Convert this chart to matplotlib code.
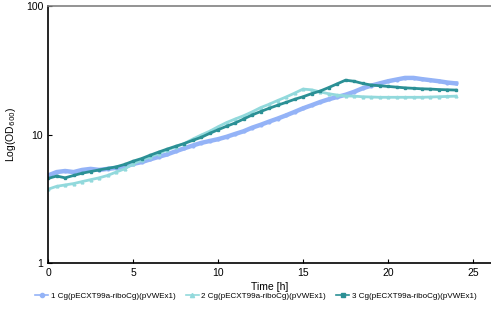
import matplotlib
matplotlib.use("Agg")
import matplotlib.pyplot as plt

plt.rcParams['font.family'] = ['Liberation Sans', 'DejaVu Sans']

time_h = [i * 0.5 for i in range(49)]

od_1 = [4.8, 5.1, 5.2, 5.1, 5.3, 5.4, 5.3, 5.4, 5.5, 5.6,
        5.9, 6.1, 6.4, 6.7, 7.0, 7.4, 7.8, 8.2, 8.6, 8.9,
        9.2, 9.6, 10.1, 10.6, 11.3, 11.9, 12.6, 13.3, 14.1, 15.0,
        16.0, 16.9, 17.9, 18.8, 19.6, 20.4, 21.5, 22.9, 24.0, 25.0,
        26.0, 26.8, 27.6, 27.6, 27.0, 26.5, 26.0, 25.4, 25.0]

od_2 = [3.75, 3.95, 4.05, 4.15, 4.3, 4.45, 4.6, 4.8, 5.1, 5.4,
        5.9, 6.3, 6.7, 7.1, 7.6, 8.0, 8.5, 9.2, 9.9, 10.6,
        11.5, 12.4, 13.2, 14.0, 15.0, 16.2, 17.2, 18.4, 19.6, 21.0,
        22.6, 22.3, 21.5, 20.8, 20.3, 20.0, 19.9, 19.7, 19.6, 19.5,
        19.5, 19.5, 19.5, 19.5, 19.5, 19.6, 19.7, 19.8, 19.9]

od_3 = [4.55, 4.75, 4.6, 4.8, 5.0, 5.15, 5.3, 5.45, 5.6, 5.85,
        6.2, 6.5, 6.9, 7.3, 7.7, 8.1, 8.5, 9.0, 9.5, 10.2,
        10.9, 11.6, 12.3, 13.2, 14.2, 15.1, 16.0, 16.9, 17.8, 18.8,
        19.7, 20.8, 21.8, 23.2, 24.8, 26.5, 26.0, 25.0, 24.3, 24.0,
        23.7, 23.4, 23.1, 22.9, 22.7, 22.6, 22.4, 22.3, 22.2]

labels = ['1 Cg(pECXT99a-riboCg)(pVWEx1)',
          '2 Cg(pECXT99a-riboCg)(pVWEx1)',
          '3 Cg(pECXT99a-riboCg)(pVWEx1)']

fig = plt.figure(figsize=(4.91, 3.23), dpi=100)
ax = fig.add_axes([0.098, 0.186, 0.902, 0.795])

ax.plot(time_h, od_1, color='#94b3f7', marker='o', markersize=2, linewidth=3.2, label=labels[0])
ax.plot(time_h, od_2, color='#92d9dc', marker='^', markersize=2, linewidth=2, label=labels[1])
ax.plot(time_h, od_3, color='#2b9095', marker='s', markersize=1.8, linewidth=2, label=labels[2])

ax.set_yscale('log')
ax.set_ylim(1, 100)
ax.set_xlim(0, 26.06)
ax.set_xticks([0, 5, 10, 15, 20, 25])
ax.set_yticks([1, 10, 100])
ax.set_yticklabels(['1', '10', '100'])
ax.minorticks_off()
ax.tick_params(labelsize=7.5, length=3, direction='in')

ax.spines['right'].set_visible(False)
ax.spines['top'].set_color('#808080')
ax.spines['top'].set_linewidth(1.2)
ax.spines['left'].set_linewidth(1.2)
ax.spines['bottom'].set_linewidth(1.2)

ax.set_xlabel('Time [h]', fontsize=7.5, labelpad=3)
ax.set_ylabel('Log(OD$_{600}$)', fontsize=7.5, labelpad=6)

handles, names = ax.get_legend_handles_labels()
leg = fig.legend(handles, names, loc='center', bbox_to_anchor=(0.521, 0.084), ncol=3,
                 frameon=False, fontsize=5.8, handlelength=1.6, handletextpad=0.3,
                 columnspacing=1.3, markerscale=1.5)
for line in leg.get_lines():
    line.set_linewidth(1.2)

fig.savefig('out.png', dpi=100)
